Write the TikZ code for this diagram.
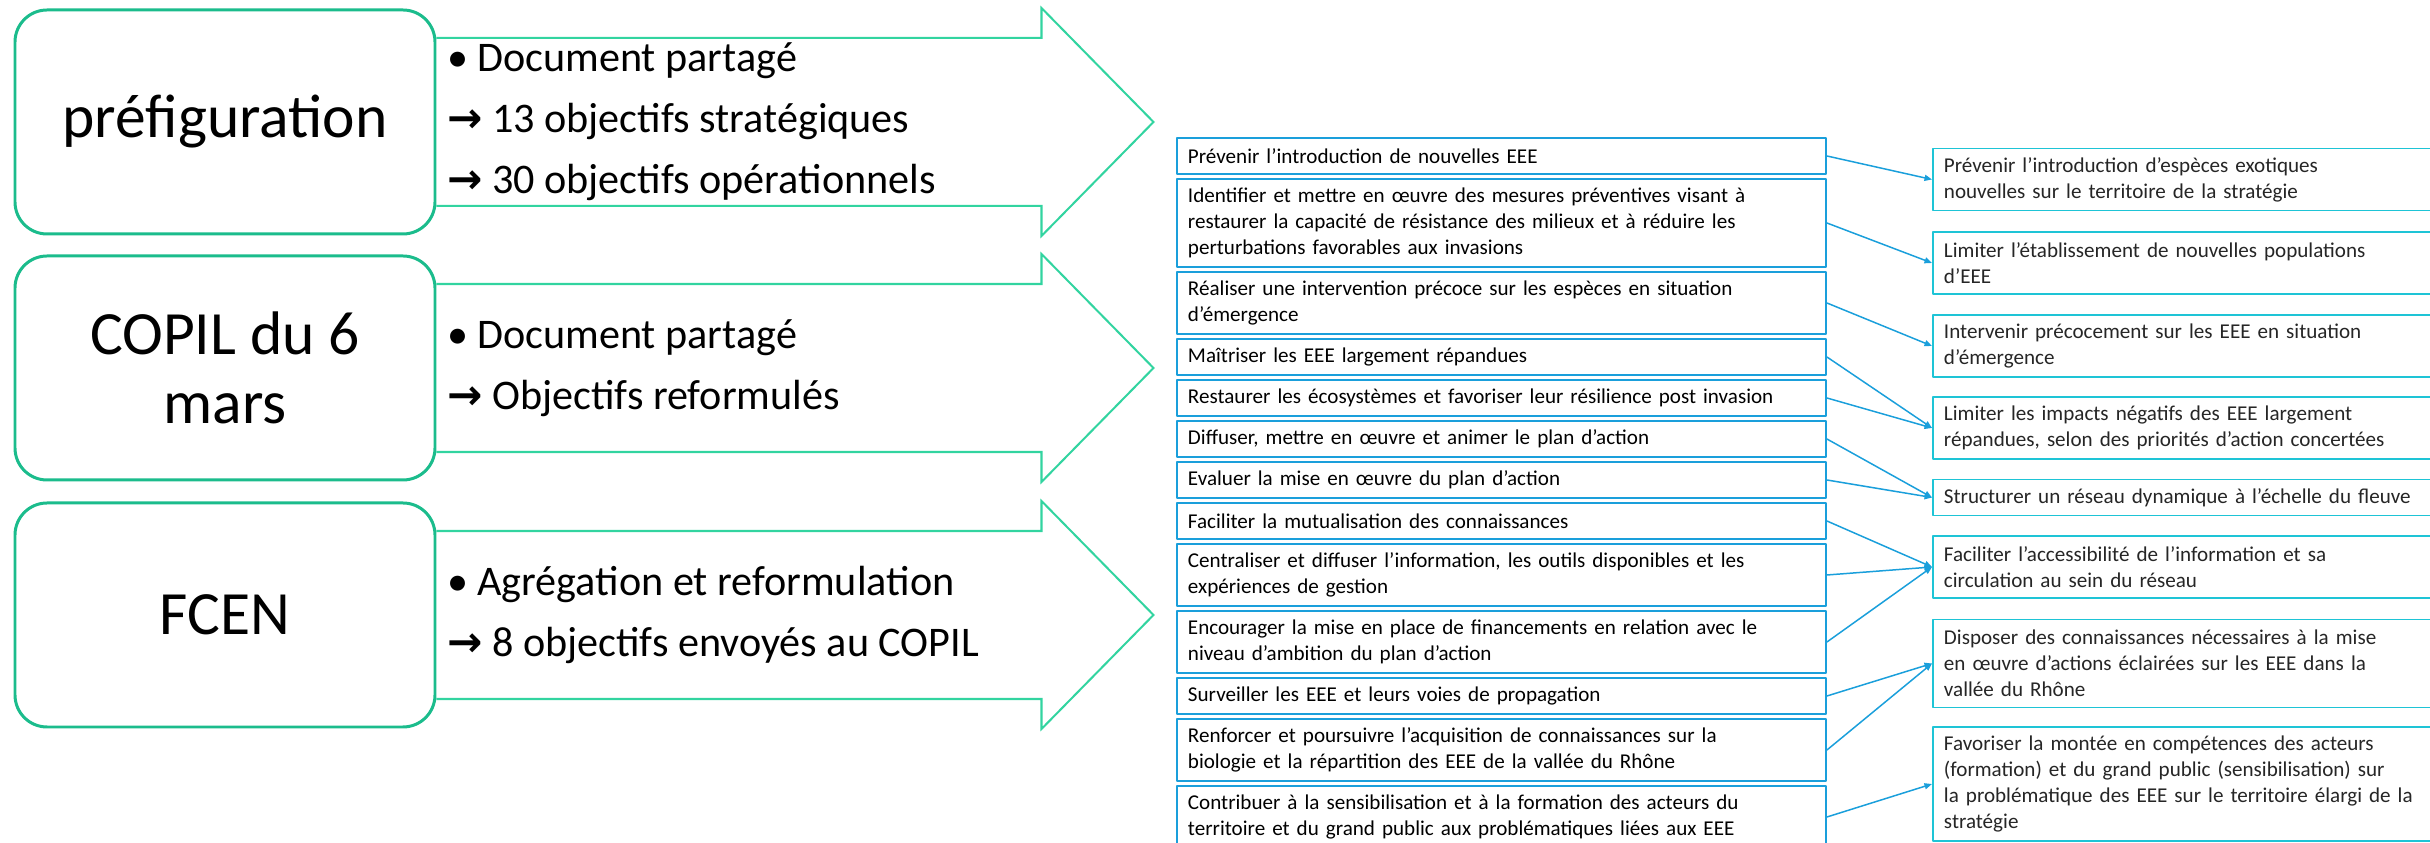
\documentclass[tikz,border=0pt]{standalone}
\usepackage{fontspec}
\setmainfont{Carlito}
\newfontfamily\arrowfont{DejaVu Sans}
\usepackage{tikz}
\usetikzlibrary{arrows.meta}
\definecolor{cgreen}{RGB}{27,188,140}
\definecolor{cmint}{RGB}{50,212,160}
\definecolor{cblue}{RGB}{26,159,219}
\definecolor{ccyan}{RGB}{30,196,214}
\newcommand{\nextarrow}{{\arrowfont\bfseries →}}
\newcommand{\stagearrow}[1]{%
  \begin{scope}[shift={(#1)}]
    \draw[cmint,line width=1.15pt,line join=miter]
      (0,1.68) -- (12.10,1.68) -- (12.10,2.28) -- (14.34,0) --
      (12.10,-2.28) -- (12.10,-1.68) -- (0,-1.68);
  \end{scope}}

\begin{document}
\begin{tikzpicture}[line cap=butt,line join=round,>=Stealth,
  phase/.style={draw=cgreen,line width=1.7pt,fill=white,rounded corners=0.64cm,
    minimum width=8.40cm,minimum height=4.48cm,align=center,
    font=\fontsize{35}{39}\selectfont},
  steps/.style={anchor=west,inner sep=0pt,align=left,
    font=\fontsize{24}{34.7}\selectfont},
  oldobj/.style={draw=cblue,line width=1.1pt,fill=white,anchor=west,
    text width=12.54cm,inner xsep=0.22cm,inner ysep=0pt,align=left,
    font=\fontsize{12}{14.8}\selectfont},
  newobj/.style={draw=ccyan,line width=1.1pt,fill=white,anchor=west,
    text width=10.56cm,inner xsep=0.22cm,inner ysep=0pt,align=left,
    text=black!85,font=\fontsize{12}{14.8}\selectfont},
  oneline/.style={minimum height=0.72cm},
  twoline/.style={minimum height=1.24cm},
  threeline/.style={minimum height=1.76cm},
  fourline/.style={minimum height=2.28cm},
  link/.style={cblue,line width=0.85pt,-{Triangle[length=0.15cm,width=0.12cm]}}]

\useasboundingbox (0,0) rectangle (48.6,16.86);

% =============================== phases ===============================
\node[phase] (PRE) at (4.50,14.42) {préfiguration};
\node[phase] (COP) at (4.50,9.50)  {COPIL du 6\\mars};
\node[phase] (FCE) at (4.50,4.56)  {FCEN};

\stagearrow{PRE.east}
\stagearrow{COP.east}
\stagearrow{FCE.east}

\node[steps] (TPRE) at (8.94,14.42) {\makebox[0.6cm][l]{•}Document partagé\\
  \nextarrow\ 13 objectifs stratégiques\\
  \nextarrow\ 30 objectifs opérationnels};
\node[steps] (TCOP) at (8.94,9.50) {\makebox[0.6cm][l]{•}Document partagé\\
  \nextarrow\ Objectifs reformulés};
\node[steps] (TFCE) at (8.94,4.56) {\makebox[0.6cm][l]{•}Agrégation et reformulation\\
  \nextarrow\ 8 objectifs envoyés au COPIL};

% ========================= objectifs (COPIL) ==========================
\node[oldobj,oneline]   (L1)  at (23.52,13.74) {Prévenir l’introduction de nouvelles EEE};
\node[oldobj,threeline] (L2)  at (23.52,12.40) {Identifier et mettre en œuvre des mesures préventives visant à\\
  restaurer la capacité de résistance des milieux et à réduire les\\
  perturbations favorables aux invasions};
\node[oldobj,twoline]   (L3)  at (23.52,10.80) {Réaliser une intervention précoce sur les espèces en situation\\
  d’émergence};
\node[oldobj,oneline]   (L4)  at (23.52,9.72)  {Maîtriser les EEE largement répandues};
\node[oldobj,oneline]   (L5)  at (23.52,8.90)  {Restaurer les écosystèmes et favoriser leur résilience post invasion};
\node[oldobj,oneline]   (L6)  at (23.52,8.08)  {Diffuser, mettre en œuvre et animer le plan d’action};
\node[oldobj,oneline]   (L7)  at (23.52,7.26)  {Evaluer la mise en œuvre du plan d’action};
\node[oldobj,oneline]   (L8)  at (23.52,6.44)  {Faciliter la mutualisation des connaissances};
\node[oldobj,twoline]   (L9)  at (23.52,5.36)  {Centraliser et diffuser l’information, les outils disponibles et les\\
  expériences de gestion};
\node[oldobj,twoline]   (L10) at (23.52,4.02)  {Encourager la mise en place de financements en relation avec le\\
  niveau d’ambition du plan d’action};
\node[oldobj,oneline]   (L11) at (23.52,2.94)  {Surveiller les EEE et leurs voies de propagation};
\node[oldobj,twoline]   (L12) at (23.52,1.86)  {Renforcer et poursuivre l’acquisition de connaissances sur la\\
  biologie et la répartition des EEE de la vallée du Rhône};
\node[oldobj,twoline]   (L13) at (23.52,0.52)  {Contribuer à la sensibilisation et à la formation des acteurs du\\
  territoire et du grand public aux problématiques liées aux EEE};

% ======================= objectifs reformulés =========================
\node[newobj,twoline]   (R1) at (38.64,13.27) {Prévenir l’introduction d’espèces exotiques\\
  nouvelles sur le territoire de la stratégie};
\node[newobj,twoline]   (R2) at (38.64,11.60) {Limiter l’établissement de nouvelles populations\\
  d’EEE};
\node[newobj,twoline]   (R3) at (38.64,9.94)  {Intervenir précocement sur les EEE en situation\\
  d’émergence};
\node[newobj,twoline]   (R4) at (38.64,8.30)  {Limiter les impacts négatifs des EEE largement\\
  répandues, selon des priorités d’action concertées};
\node[newobj,oneline]   (R5) at (38.64,6.91)  {Structurer un réseau dynamique à l’échelle du fleuve};
\node[newobj,twoline]   (R6) at (38.64,5.52)  {Faciliter l’accessibilité de l’information et sa\\
  circulation au sein du réseau};
\node[newobj,threeline] (R7) at (38.64,3.59)  {Disposer des connaissances nécessaires à la mise\\
  en œuvre d’actions éclairées sur les EEE dans la\\
  vallée du Rhône};
\node[newobj,fourline]  (R8) at (38.64,1.18)  {Favoriser la montée en compétences des acteurs\\
  (formation) et du grand public (sensibilisation) sur\\
  la problématique des EEE sur le territoire élargi de la\\
  stratégie};

% ============================== links =================================
\foreach \a/\b in {L1/R1,L2/R2,L3/R3,L4/R4,L5/R4,L6/R5,L7/R5,
                   L8/R6,L9/R6,L10/R6,L11/R7,L12/R7,L13/R8}
  \draw[link] (\a.east) -- (\b.west);

\end{tikzpicture}
\end{document}
